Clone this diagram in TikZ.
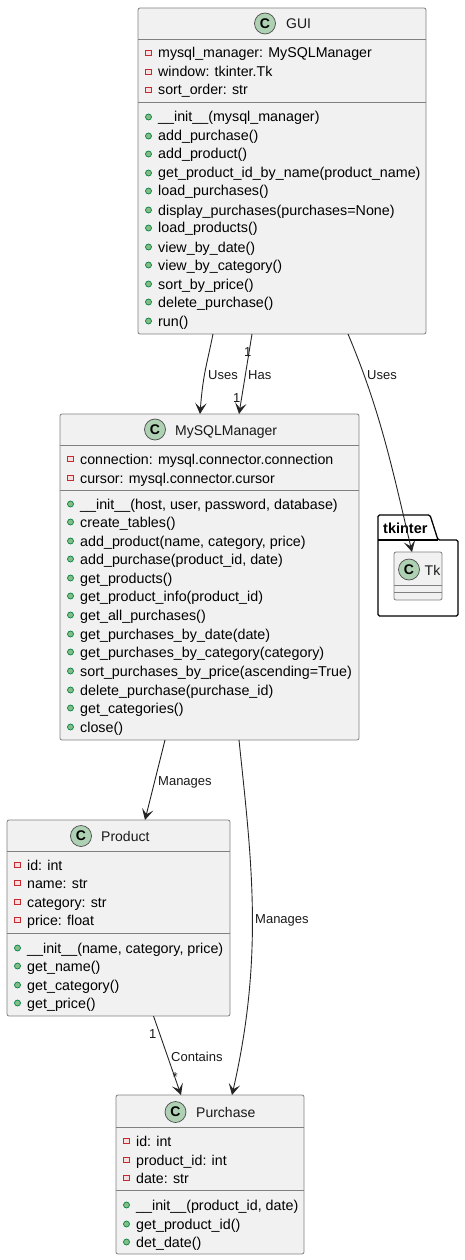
\documentclass[tikz,border=0pt]{standalone}
\usepackage{fontspec}
\setmainfont{Liberation Sans}
\usetikzlibrary{positioning,arrows.meta}
\definecolor{boxfill}{HTML}{F1F1F1}
\definecolor{boxline}{HTML}{808080}
\definecolor{spotfill}{HTML}{ADD1B2}
\definecolor{privline}{HTML}{C82930}
\definecolor{publine}{HTML}{038048}
\definecolor{pubfill}{HTML}{84BE84}
\tikzset{
  classbox/.style={draw=boxline,fill=boxfill,line width=0.8pt,rounded corners=2pt,anchor=north west,inner sep=0pt,outer sep=0pt},
  sepline/.style={draw=boxline,line width=0.8pt},
  spot/.style={circle,draw=black!70,fill=spotfill,line width=0.7pt,minimum size=21pt,inner sep=0pt,font=\fontsize{14}{16}\selectfont\bfseries},
  nametext/.style={anchor=base west,inner sep=0pt,font=\fontsize{14}{16}\selectfont,text=black!90},
  attrtext/.style={anchor=base west,inner sep=0pt,font=\fontsize{14.2}{16}\selectfont,text=black},
  methtext/.style={anchor=base west,inner sep=0pt,font=\fontsize{14.3}{16}\selectfont,text=black},
  linktext/.style={anchor=base west,inner sep=0pt,font=\fontsize{13}{15}\selectfont,text=black!90},
  privmark/.style={draw=privline,fill=white!85!privline,line width=0.7pt,minimum size=5.5pt,inner sep=0pt},
  pubmark/.style={circle,draw=publine,fill=pubfill,line width=0.7pt,minimum size=6pt,inner sep=0pt},
  link/.style={draw=black!85,line width=0.9pt,-{Stealth[length=11pt,width=11.5pt,inset=5pt]}}
}
% #1 = box left edge, #2 = row centre, #3 = text
\newcommand{\attrrow}[3]{
  \node[privmark] (mark#2) at (#1+10.5,#2) {};
  \node[attrtext] (row#2) at (#1+20,#2+5) {#3};
}
\newcommand{\methrow}[3]{
  \node[pubmark] (mark#2) at (#1+10.5,#2) {};
  \node[methtext] (row#2) at (#1+20,#2+5) {#3};
}
\begin{document}
\begin{tikzpicture}[x=1pt,y=-1pt]
  \useasboundingbox (0,0) rectangle (464,1260);

  % GUI
  \node[classbox,minimum width=288pt,minimum height=326pt] (gui) at (138,8) {};
  \draw[sepline] (gui.west |- 0,39.5) -- (gui.east |- 0,39.5);
  \draw[sepline] (gui.west |- 0,102.5) -- (gui.east |- 0,102.5);
  \node[spot] (guispot) at (265,23.5) {C};
  \node[nametext] (guiname) at (286,29) {GUI};
  \attrrow{138}{53}{mysql\_manager: MySQLManager}
  \attrrow{138}{72}{window: tkinter.Tk}
  \attrrow{138}{90}{sort\_order: str}
  \foreach \y/\txt in {117/{\_\_init\_\_(mysql\_manager)},136/{add\_purchase()},154/{add\_product()},
    173/{get\_product\_id\_by\_name(product\_name)},191/{load\_purchases()},210/{display\_purchases(purchases=None)},
    228/{load\_products()},247/{view\_by\_date()},265/{view\_by\_category()},284/{sort\_by\_price()},
    302/{delete\_purchase()},321/{run()}}
    {\methrow{138}{\y}{\txt}}

  % MySQLManager
  \node[classbox,minimum width=299pt,minimum height=326pt] (mysql) at (60,414) {};
  \draw[sepline] (mysql.west |- 0,445.5) -- (mysql.east |- 0,445.5);
  \draw[sepline] (mysql.west |- 0,490.5) -- (mysql.east |- 0,490.5);
  \node[spot] (mysqlspot) at (155,429.5) {C};
  \node[nametext] (mysqlname) at (175,435) {MySQLManager};
  \attrrow{60}{459}{connection: mysql.connector.connection}
  \attrrow{60}{478}{cursor: mysql.connector.cursor}
  \foreach \y/\txt in {504/{\_\_init\_\_(host, user, password, database)},522/{create\_tables()},
    541/{add\_product(name, category, price)},559/{add\_purchase(product\_id, date)},578/{get\_products()},
    596/{get\_product\_info(product\_id)},615/{get\_all\_purchases()},634/{get\_purchases\_by\_date(date)},
    652/{get\_purchases\_by\_category(category)},671/{sort\_purchases\_by\_price(ascending=True)},
    690/{delete\_purchase(purchase\_id)},708/{get\_categories()},727/{close()}}
    {\methrow{60}{\y}{\txt}}

  % tkinter package
  \draw[draw=black,fill=white,line width=1.3pt,rounded corners=1.5pt] (378,540) -- (378,515) -- (430,515) -- (438,540) -- (458,540) -- (458,616) -- (378,616) -- cycle;
  \draw[black,line width=1.1pt] (378,540) -- (438,540);
  \node[anchor=base west,inner sep=0pt,font=\fontsize{14.5}{16}\selectfont\bfseries] (pkgname) at (383,533) {tkinter};
  \node[classbox,minimum width=48pt,minimum height=48pt] (tk) at (394,552) {};
  \draw[sepline] (tk.west |- 0,585) -- (tk.east |- 0,585);
  \draw[sepline] (tk.west |- 0,592.5) -- (tk.east |- 0,592.5);
  \node[spot] (tkspot) at (409,569.5) {C};
  \node[nametext] (tkname) at (424.5,575) {Tk};

  % Product
  \node[classbox,minimum width=223pt,minimum height=196pt] (product) at (7,820) {};
  \draw[sepline] (product.west |- 0,851.5) -- (product.east |- 0,851.5);
  \draw[sepline] (product.west |- 0,933.5) -- (product.east |- 0,933.5);
  \node[spot] (productspot) at (81,836) {C};
  \node[nametext] (productname) at (101,841) {Product};
  \foreach \y/\txt in {865/{id: int},883/{name: str},902/{category: str},920/{price: float}}
    {\attrrow{7}{\y}{\txt}}
  \foreach \y/\txt in {948/{\_\_init\_\_(name, category, price)},966/{get\_name()},985/{get\_category()},1003/{get\_price()}}
    {\methrow{7}{\y}{\txt}}

  % Purchase
  \node[classbox,minimum width=188pt,minimum height=159pt] (purchase) at (116,1095) {};
  \draw[sepline] (purchase.west |- 0,1127) -- (purchase.east |- 0,1127);
  \draw[sepline] (purchase.west |- 0,1190) -- (purchase.east |- 0,1190);
  \node[spot] (purchasespot) at (175.5,1112) {C};
  \node[nametext] (purchasename) at (196,1117) {Purchase};
  \foreach \y/\txt in {1141/{id: int},1160/{product\_id: int},1178/{date: str}}
    {\attrrow{116}{\y}{\txt}}
  \foreach \y/\txt in {1205/{\_\_init\_\_(product\_id, date)},1224/{get\_product\_id()},1242/{det\_date()}}
    {\methrow{116}{\y}{\txt}}

  % links
  \draw[link] ([xshift=-69pt]gui.south) .. controls +(-6,30) and +(3,-40) .. ([xshift=-9.5pt]mysql.north);
  \draw[link] ([xshift=-30pt]gui.south) -- ([xshift=29.5pt]mysql.north);
  \draw[link] ([xshift=66pt]gui.south) .. controls +(32,76) and +(-20,-85) .. ([xshift=-6pt]tk.north);
  \draw[link] ([xshift=-44.5pt]mysql.south) -- ([xshift=26.5pt]product.north);
  \draw[link] ([xshift=29.5pt]mysql.south) .. controls +(12.5,120) and +(32,-140) .. ([xshift=22pt]purchase.north);
  \draw[link] ([xshift=35pt]product.south) -- ([xshift=-29pt]purchase.north);

  \node[linktext] (usesa) at (208,379) {Uses};
  \node[linktext] (hasa) at (248,379) {Has};
  \node[linktext] (usesb) at (367,379) {Uses};
  \node[linktext] (managesa) at (158,785) {Manages};
  \node[linktext] (managesb) at (255,923) {Manages};
  \node[linktext] (containsa) at (171,1061) {Contains};
  \node[linktext] (onea) at (244,356) {1};
  \node[linktext] (oneb) at (233,402) {1};
  \node[linktext] (onec) at (149,1038) {1};
  \node[linktext] (stara) at (172.5,1081) {*};
\end{tikzpicture}
\end{document}
